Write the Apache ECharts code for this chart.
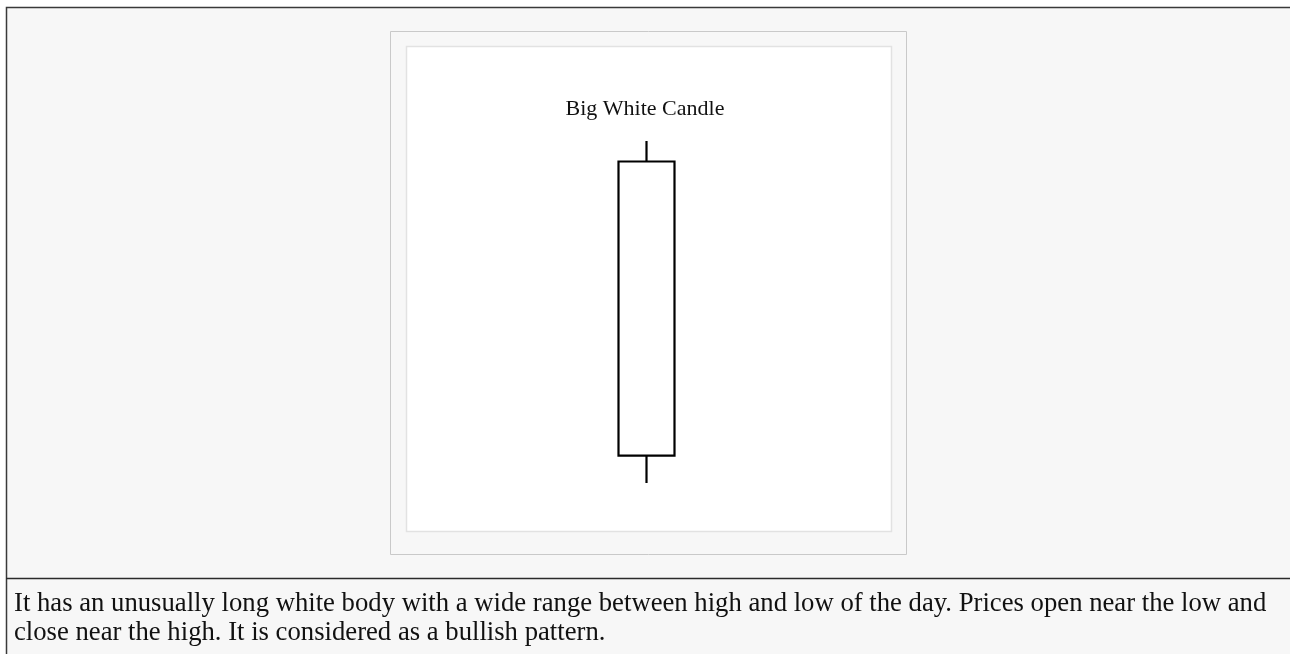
<!DOCTYPE html>
<html>
<head>
<meta charset="utf-8">
<script src="https://cdn.jsdelivr.net/npm/echarts@6/dist/echarts.min.js"></script>
<style>
  html, body { margin: 0; padding: 0; background: #fff; }
  #chart { width: 1290px; height: 654px; }
</style>
</head>
<body>
<div id="chart"></div>
<script>
// one day, candle values as [open, close, low, high]
const categories = ["Day"];
const candleValues = [[8, 94, 0, 100]];
const chartTitle = "Big White Candle";
const captionLines = [
  "It has an unusually long white body with a wide range between high and low of the day. Prices open near the low and",
  "close near the high. It is considered as a bullish pattern."
];

const chart = echarts.init(document.getElementById("chart"));

const option = {
  backgroundColor: "#ffffff",
  animation: false,
  graphic: [
    // page panel with dark top / left border
    {
      type: "rect", z: -10, silent: true,
      shape: { x: 6.5, y: 7.5, width: 1300, height: 700 },
      style: { fill: "#f7f7f7", stroke: "#3a3a3a", lineWidth: 1.5 }
    },
    {
      type: "line", z: -9, silent: true,
      shape: { x1: 6, y1: 578.5, x2: 1290, y2: 578.5 },
      style: { stroke: "#2a2a2a", lineWidth: 1.5 }
    },
    // picture frame
    {
      type: "rect", z: -8, silent: true,
      shape: { x: 390.5, y: 31.5, width: 516, height: 523 },
      style: { fill: "#f7f7f7", stroke: "#c9c9c9", lineWidth: 1 }
    },
    {
      type: "rect", z: -7, silent: true,
      shape: { x: 406.5, y: 46.5, width: 485, height: 485 },
      style: { fill: "#ffffff", stroke: "#e2e2e2", lineWidth: 1.5 }
    },
    {
      type: "text", silent: true,
      left: 14, top: 589,
      style: {
        text: captionLines.join("\n"),
        font: "26.7px 'Liberation Serif', 'DejaVu Serif', serif",
        fill: "#111",
        lineHeight: 29
      }
    }
  ],
  title: {
    text: chartTitle,
    left: 640,
    top: 93,
    textAlign: "center",
    textStyle: {
      fontFamily: "'Liberation Serif', 'DejaVu Serif', serif",
      fontSize: 22,
      fontWeight: "normal",
      color: "#111"
    }
  },
  grid: { left: 588, width: 117, top: 141, height: 342 },
  xAxis: {
    type: "category",
    data: categories,
    show: false
  },
  yAxis: {
    type: "value",
    min: 0,
    max: 100,
    show: false,
    splitLine: { show: false }
  },
  series: [
    {
      type: "candlestick",
      data: candleValues,
      barWidth: 57,
      itemStyle: {
        color: "#ffffff",
        color0: "#ffffff",
        borderColor: "#000000",
        borderColor0: "#000000",
        borderWidth: 2.2
      }
    }
  ]
};

chart.setOption(option);
</script>
</body>
</html>
